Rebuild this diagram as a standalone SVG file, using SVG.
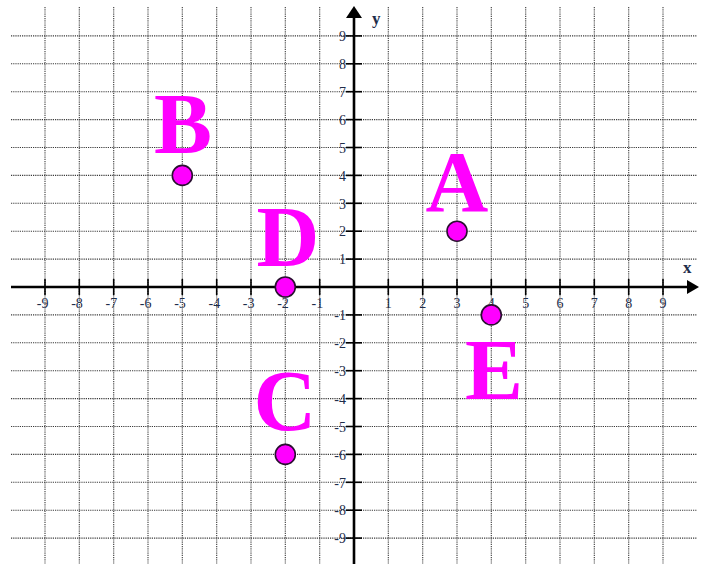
<svg xmlns="http://www.w3.org/2000/svg" width="701" height="564" viewBox="0 0 701 564">
<style>
.grid line{stroke:#3a3a3a;stroke-width:1.1;stroke-dasharray:1.2 1}
.axis{stroke:#000;stroke-width:2.6;fill:none}
.tick{stroke:#000;stroke-width:1.6}
.num{font-family:"Liberation Serif",serif;font-size:14px;fill:#1e2d4a}
.axl{font-family:"Liberation Serif",serif;font-size:17px;font-weight:bold;fill:#1e2d4a}
.pt{fill:#ff00ff;stroke:#2a1030;stroke-width:1.6}
.big{font-family:"Liberation Serif",serif;font-size:87px;font-weight:bold;fill:#ff00ff;text-anchor:middle}
</style>
<rect width="701" height="564" fill="#fff"/>
<g class="grid" id="grid">
<line x1="45" y1="7" x2="45" y2="564"/><line x1="79.3" y1="7" x2="79.3" y2="564"/><line x1="113.7" y1="7" x2="113.7" y2="564"/><line x1="148" y1="7" x2="148" y2="564"/><line x1="182.3" y1="7" x2="182.3" y2="564"/><line x1="216.7" y1="7" x2="216.7" y2="564"/><line x1="251" y1="7" x2="251" y2="564"/><line x1="285.3" y1="7" x2="285.3" y2="564"/><line x1="319.7" y1="7" x2="319.7" y2="564"/>
<line x1="388.3" y1="7" x2="388.3" y2="564"/><line x1="422.7" y1="7" x2="422.7" y2="564"/><line x1="457" y1="7" x2="457" y2="564"/><line x1="491.3" y1="7" x2="491.3" y2="564"/><line x1="525.7" y1="7" x2="525.7" y2="564"/><line x1="560" y1="7" x2="560" y2="564"/><line x1="594.3" y1="7" x2="594.3" y2="564"/><line x1="628.7" y1="7" x2="628.7" y2="564"/><line x1="663" y1="7" x2="663" y2="564"/>
<line x1="11" y1="35.9" x2="697" y2="35.9"/><line x1="11" y1="63.8" x2="697" y2="63.8"/><line x1="11" y1="91.7" x2="697" y2="91.7"/><line x1="11" y1="119.6" x2="697" y2="119.6"/><line x1="11" y1="147.5" x2="697" y2="147.5"/><line x1="11" y1="175.4" x2="697" y2="175.4"/><line x1="11" y1="203.3" x2="697" y2="203.3"/><line x1="11" y1="231.2" x2="697" y2="231.2"/><line x1="11" y1="259.1" x2="697" y2="259.1"/>
<line x1="11" y1="314.9" x2="697" y2="314.9"/><line x1="11" y1="342.8" x2="697" y2="342.8"/><line x1="11" y1="370.7" x2="697" y2="370.7"/><line x1="11" y1="398.6" x2="697" y2="398.6"/><line x1="11" y1="426.5" x2="697" y2="426.5"/><line x1="11" y1="454.4" x2="697" y2="454.4"/><line x1="11" y1="482.3" x2="697" y2="482.3"/><line x1="11" y1="510.2" x2="697" y2="510.2"/><line x1="11" y1="538.1" x2="697" y2="538.1"/>
</g>
<g id="axes">
<line class="axis" x1="11" y1="287" x2="689" y2="287"/>
<polygon points="699,287 687,280 687,294" fill="#000"/>
<line class="axis" x1="354" y1="564" x2="354" y2="16"/>
<polygon points="354,6 346,18 362,18" fill="#000"/>
<text class="axl" x="372" y="24">y</text>
<text class="axl" x="683" y="273">x</text>
</g>
<g id="ticks">
<line class="tick" x1="45" y1="279" x2="45" y2="295"/><line class="tick" x1="79.3" y1="279" x2="79.3" y2="295"/><line class="tick" x1="113.7" y1="279" x2="113.7" y2="295"/><line class="tick" x1="148" y1="279" x2="148" y2="295"/><line class="tick" x1="182.3" y1="279" x2="182.3" y2="295"/><line class="tick" x1="216.7" y1="279" x2="216.7" y2="295"/><line class="tick" x1="251" y1="279" x2="251" y2="295"/><line class="tick" x1="285.3" y1="279" x2="285.3" y2="295"/><line class="tick" x1="319.7" y1="279" x2="319.7" y2="295"/>
<line class="tick" x1="388.3" y1="279" x2="388.3" y2="295"/><line class="tick" x1="422.7" y1="279" x2="422.7" y2="295"/><line class="tick" x1="457" y1="279" x2="457" y2="295"/><line class="tick" x1="491.3" y1="279" x2="491.3" y2="295"/><line class="tick" x1="525.7" y1="279" x2="525.7" y2="295"/><line class="tick" x1="560" y1="279" x2="560" y2="295"/><line class="tick" x1="594.3" y1="279" x2="594.3" y2="295"/><line class="tick" x1="628.7" y1="279" x2="628.7" y2="295"/><line class="tick" x1="663" y1="279" x2="663" y2="295"/>
<line class="tick" x1="346" y1="35.9" x2="362" y2="35.9"/><line class="tick" x1="346" y1="63.8" x2="362" y2="63.8"/><line class="tick" x1="346" y1="91.7" x2="362" y2="91.7"/><line class="tick" x1="346" y1="119.6" x2="362" y2="119.6"/><line class="tick" x1="346" y1="147.5" x2="362" y2="147.5"/><line class="tick" x1="346" y1="175.4" x2="362" y2="175.4"/><line class="tick" x1="346" y1="203.3" x2="362" y2="203.3"/><line class="tick" x1="346" y1="231.2" x2="362" y2="231.2"/><line class="tick" x1="346" y1="259.1" x2="362" y2="259.1"/>
<line class="tick" x1="346" y1="314.9" x2="362" y2="314.9"/><line class="tick" x1="346" y1="342.8" x2="362" y2="342.8"/><line class="tick" x1="346" y1="370.7" x2="362" y2="370.7"/><line class="tick" x1="346" y1="398.6" x2="362" y2="398.6"/><line class="tick" x1="346" y1="426.5" x2="362" y2="426.5"/><line class="tick" x1="346" y1="454.4" x2="362" y2="454.4"/><line class="tick" x1="346" y1="482.3" x2="362" y2="482.3"/><line class="tick" x1="346" y1="510.2" x2="362" y2="510.2"/><line class="tick" x1="346" y1="538.1" x2="362" y2="538.1"/>
</g>
<g id="x-labels" class="num" text-anchor="end">
<text x="48.5" y="308">-9</text><text x="82.8" y="308">-8</text><text x="117.2" y="308">-7</text><text x="151.5" y="308">-6</text><text x="185.8" y="308">-5</text><text x="220.2" y="308">-4</text><text x="254.5" y="308">-3</text><text x="288.8" y="308">-2</text><text x="323.2" y="308">-1</text>
<text x="391.8" y="308">1</text><text x="426.2" y="308">2</text><text x="460.5" y="308">3</text><text x="494.8" y="308">4</text><text x="529.2" y="308">5</text><text x="563.5" y="308">6</text><text x="597.8" y="308">7</text><text x="632.2" y="308">8</text><text x="666.5" y="308">9</text>
</g>
<g id="y-labels" class="num" text-anchor="end">
<text x="346" y="41">9</text><text x="346" y="69">8</text><text x="346" y="97">7</text><text x="346" y="125">6</text><text x="346" y="152.5">5</text><text x="346" y="180.5">4</text><text x="346" y="208.5">3</text><text x="346" y="236">2</text><text x="346" y="264">1</text>
<text x="346" y="320">-1</text><text x="346" y="348">-2</text><text x="346" y="376">-3</text><text x="346" y="404">-4</text><text x="346" y="431.5">-5</text><text x="346" y="459.5">-6</text><text x="346" y="487.5">-7</text><text x="346" y="515">-8</text><text x="346" y="543">-9</text>
</g>
<g id="A"><circle class="pt" cx="457" cy="231.2" r="10"/><text class="big" x="457" y="211">A</text></g>
<g id="B"><circle class="pt" cx="182.3" cy="175.4" r="10"/><text class="big" x="183" y="153">B</text></g>
<g id="D"><circle class="pt" cx="285.3" cy="287" r="10"/><text class="big" x="288" y="266">D</text></g>
<g id="C"><circle class="pt" cx="285.3" cy="454.4" r="10"/><text class="big" x="285" y="430">C</text></g>
<g id="E"><circle class="pt" cx="491.3" cy="314.9" r="10"/><text class="big" x="494" y="399">E</text></g>
</svg>
